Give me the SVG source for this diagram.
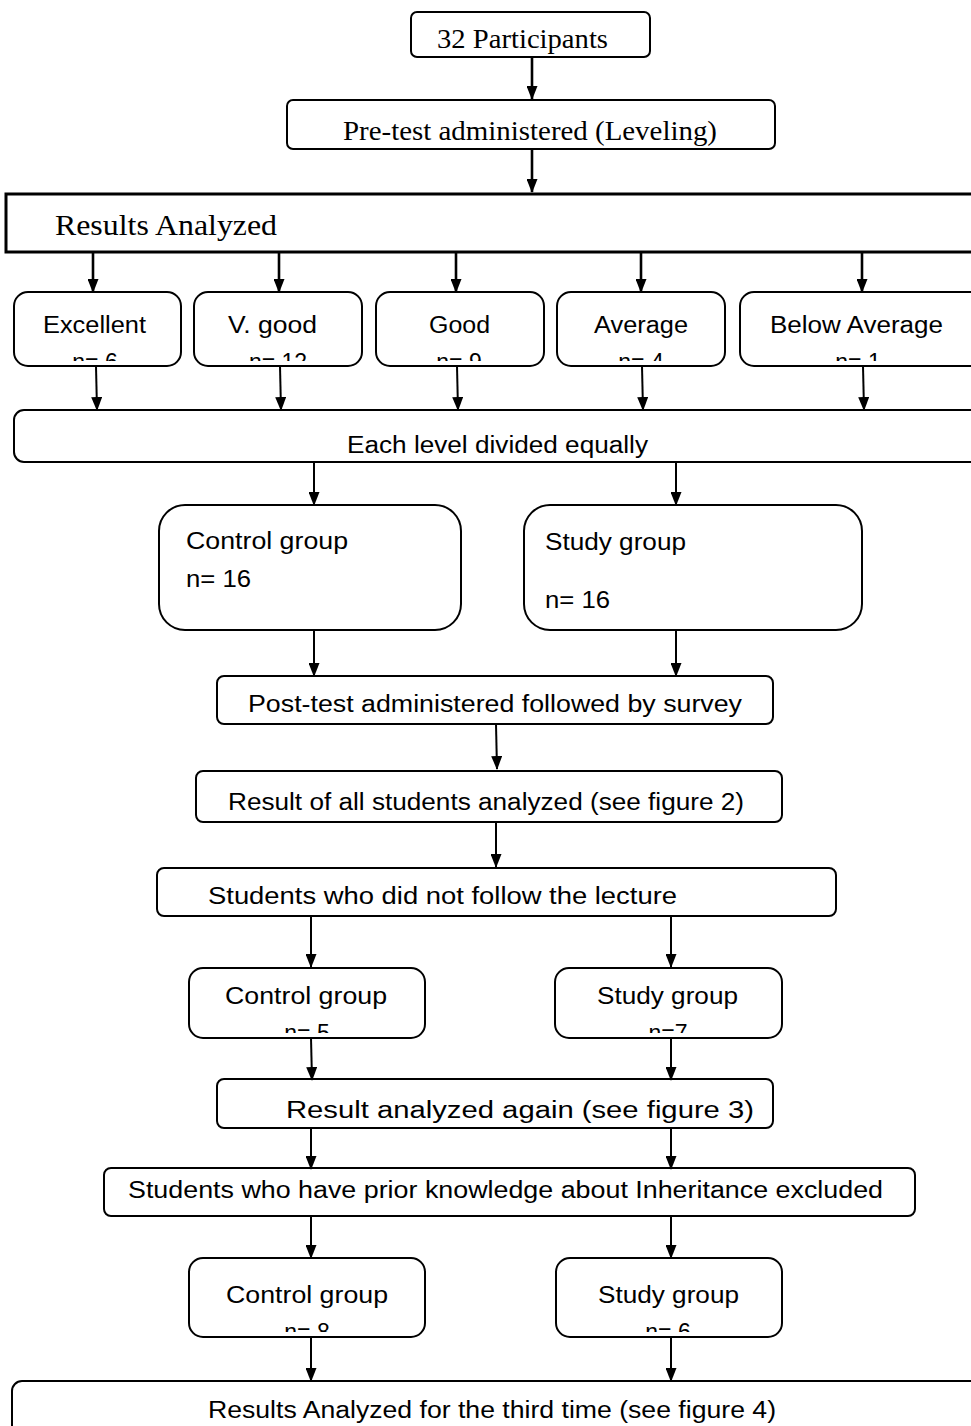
<svg xmlns="http://www.w3.org/2000/svg" width="971" height="1426" viewBox="0 0 971 1426">
<style>
.box{fill:#fff;stroke:#000;stroke-width:2}
.serif{font-family:"Liberation Serif","Times New Roman",serif;fill:#000}
.sans{font-family:"Liberation Sans",Arial,sans-serif;font-size:23px;fill:#000}
.conn line{stroke:#000;stroke-width:2}
.conn line.thick{stroke-width:2.6}
</style>
<defs>
<marker id="ah" viewBox="0 0 14 11" refX="13" refY="5.5" markerWidth="14" markerHeight="11" orient="auto" markerUnits="userSpaceOnUse">
<path d="M0,0 L14,5.5 L0,11 z" fill="#000"/>
</marker>
<clipPath id="cL1"><rect x="0" y="292" width="971" height="69"/></clipPath>
<clipPath id="cPost"><rect x="217" y="676" width="556" height="41"/></clipPath>
<clipPath id="cL2"><rect x="0" y="968" width="971" height="65"/></clipPath>
<clipPath id="cL3"><rect x="0" y="1258" width="971" height="74"/></clipPath>
</defs>

<g id="n_participants">
<rect class="box" x="411" y="12" width="239" height="45" rx="6"/>
<text class="serif" x="437" y="48" font-size="28" textLength="171" lengthAdjust="spacingAndGlyphs">32 Participants</text>
</g>
<g id="n_pretest">
<rect class="box" x="287" y="100" width="488" height="49" rx="6"/>
<text class="serif" x="343" y="140" font-size="28" textLength="374" lengthAdjust="spacingAndGlyphs">Pre-test administered (Leveling)</text>
</g>
<g id="n_results">
<rect x="6" y="194" width="975" height="58" fill="#fff" stroke="#000" stroke-width="3"/>
<text class="serif" x="55" y="235" font-size="30" textLength="222" lengthAdjust="spacingAndGlyphs">Results Analyzed</text>
</g>

<g id="n_excellent">
<rect class="box" x="14" y="292" width="167" height="74" rx="14"/>
<text class="sans" x="43" y="333" textLength="103" lengthAdjust="spacingAndGlyphs">Excellent</text>
<text class="sans" x="95" y="370" text-anchor="middle" clip-path="url(#cL1)">n= 6</text>
</g>
<g id="n_vgood">
<rect class="box" x="194" y="292" width="168" height="74" rx="14"/>
<text class="sans" x="228" y="333" textLength="89" lengthAdjust="spacingAndGlyphs">V. good</text>
<text class="sans" x="278" y="370" text-anchor="middle" clip-path="url(#cL1)">n= 12</text>
</g>
<g id="n_good">
<rect class="box" x="376" y="292" width="168" height="74" rx="14"/>
<text class="sans" x="429" y="333" textLength="61" lengthAdjust="spacingAndGlyphs">Good</text>
<text class="sans" x="459" y="370" text-anchor="middle" clip-path="url(#cL1)">n= 9</text>
</g>
<g id="n_average">
<rect class="box" x="557" y="292" width="168" height="74" rx="14"/>
<text class="sans" x="594" y="333" textLength="94" lengthAdjust="spacingAndGlyphs">Average</text>
<text class="sans" x="641" y="370" text-anchor="middle" clip-path="url(#cL1)">n= 4</text>
</g>
<g id="n_below">
<rect class="box" x="740" y="292" width="245" height="74" rx="14"/>
<text class="sans" x="770" y="333" textLength="173" lengthAdjust="spacingAndGlyphs">Below Average</text>
<text class="sans" x="858" y="370" text-anchor="middle" clip-path="url(#cL1)">n= 1</text>
</g>

<g id="n_divided">
<rect class="box" x="14" y="410" width="975" height="52" rx="10"/>
<text class="sans" x="347" y="453" textLength="301" lengthAdjust="spacingAndGlyphs">Each level divided equally</text>
</g>

<g id="n_control1">
<rect class="box" x="159" y="505" width="302" height="125" rx="26"/>
<text class="sans" x="186" y="549" textLength="162" lengthAdjust="spacingAndGlyphs">Control group</text>
<text class="sans" x="186" y="587" textLength="65" lengthAdjust="spacingAndGlyphs">n= 16</text>
</g>
<g id="n_study1">
<rect class="box" x="524" y="505" width="338" height="125" rx="26"/>
<text class="sans" x="545" y="550" textLength="141" lengthAdjust="spacingAndGlyphs">Study group</text>
<text class="sans" x="545" y="608" textLength="65" lengthAdjust="spacingAndGlyphs">n= 16</text>
</g>

<g id="n_posttest">
<rect class="box" x="217" y="676" width="556" height="48" rx="7"/>
<text class="sans" x="248" y="712" textLength="494" lengthAdjust="spacingAndGlyphs" clip-path="url(#cPost)">Post-test administered followed by survey</text>
</g>
<g id="n_resultall">
<rect class="box" x="196" y="771" width="586" height="51" rx="7"/>
<text class="sans" x="228" y="810" textLength="516" lengthAdjust="spacingAndGlyphs">Result of all students analyzed (see figure 2)</text>
</g>
<g id="n_notfollow">
<rect class="box" x="157" y="868" width="679" height="48" rx="7"/>
<text class="sans" x="208" y="904" textLength="469" lengthAdjust="spacingAndGlyphs">Students who did not follow the lecture</text>
</g>

<g id="n_control2">
<rect class="box" x="189" y="968" width="236" height="70" rx="14"/>
<text class="sans" x="225" y="1004" textLength="162" lengthAdjust="spacingAndGlyphs">Control group</text>
<text class="sans" x="307" y="1041" text-anchor="middle" clip-path="url(#cL2)">n= 5</text>
</g>
<g id="n_study2">
<rect class="box" x="555" y="968" width="227" height="70" rx="14"/>
<text class="sans" x="597" y="1004" textLength="141" lengthAdjust="spacingAndGlyphs">Study group</text>
<text class="sans" x="668" y="1041" text-anchor="middle" clip-path="url(#cL2)">n=7</text>
</g>

<g id="n_again">
<rect class="box" x="217" y="1079" width="556" height="49" rx="7"/>
<text class="sans" x="286" y="1118" textLength="468" lengthAdjust="spacingAndGlyphs">Result analyzed again (see figure 3)</text>
</g>
<g id="n_prior">
<rect class="box" x="104" y="1168" width="811" height="48" rx="7"/>
<text class="sans" x="128" y="1198" textLength="755" lengthAdjust="spacingAndGlyphs">Students who have prior knowledge about Inheritance excluded</text>
</g>

<g id="n_control3">
<rect class="box" x="189" y="1258" width="236" height="79" rx="14"/>
<text class="sans" x="226" y="1303" textLength="162" lengthAdjust="spacingAndGlyphs">Control group</text>
<text class="sans" x="307" y="1340" text-anchor="middle" clip-path="url(#cL3)">n= 8</text>
</g>
<g id="n_study3">
<rect class="box" x="556" y="1258" width="226" height="79" rx="14"/>
<text class="sans" x="598" y="1303" textLength="141" lengthAdjust="spacingAndGlyphs">Study group</text>
<text class="sans" x="668" y="1340" text-anchor="middle" clip-path="url(#cL3)">n= 6</text>
</g>

<g id="n_third">
<rect class="box" x="12" y="1381" width="975" height="60" rx="10"/>
<text class="sans" x="208" y="1418" textLength="568" lengthAdjust="spacingAndGlyphs">Results Analyzed for the third time (see figure 4)</text>
</g>

<g id="connectors" class="conn">
<line class="thick" x1="532" y1="57" x2="532" y2="99" marker-end="url(#ah)"/>
<line class="thick" x1="532" y1="149" x2="532" y2="192" marker-end="url(#ah)"/>
<line class="thick" x1="93" y1="252" x2="93" y2="292" marker-end="url(#ah)"/>
<line class="thick" x1="279" y1="252" x2="279" y2="292" marker-end="url(#ah)"/>
<line class="thick" x1="456" y1="252" x2="456" y2="292" marker-end="url(#ah)"/>
<line class="thick" x1="641" y1="252" x2="641" y2="292" marker-end="url(#ah)"/>
<line class="thick" x1="862" y1="252" x2="862" y2="292" marker-end="url(#ah)"/>
<line x1="96" y1="366" x2="97" y2="410" marker-end="url(#ah)"/>
<line x1="280" y1="366" x2="281" y2="410" marker-end="url(#ah)"/>
<line x1="457" y1="366" x2="458" y2="410" marker-end="url(#ah)"/>
<line x1="642" y1="366" x2="643" y2="410" marker-end="url(#ah)"/>
<line x1="863" y1="366" x2="864" y2="410" marker-end="url(#ah)"/>
<line x1="314" y1="462" x2="314" y2="505" marker-end="url(#ah)"/>
<line x1="676" y1="462" x2="676" y2="505" marker-end="url(#ah)"/>
<line x1="314" y1="630" x2="314" y2="676" marker-end="url(#ah)"/>
<line x1="676" y1="630" x2="676" y2="676" marker-end="url(#ah)"/>
<line x1="496" y1="724" x2="497" y2="769" marker-end="url(#ah)"/>
<line x1="496" y1="822" x2="496" y2="867" marker-end="url(#ah)"/>
<line x1="311" y1="916" x2="311" y2="967" marker-end="url(#ah)"/>
<line x1="671" y1="916" x2="671" y2="967" marker-end="url(#ah)"/>
<line x1="311" y1="1038" x2="312" y2="1080" marker-end="url(#ah)"/>
<line x1="671" y1="1038" x2="671" y2="1080" marker-end="url(#ah)"/>
<line x1="311" y1="1128" x2="311" y2="1169" marker-end="url(#ah)"/>
<line x1="671" y1="1128" x2="671" y2="1169" marker-end="url(#ah)"/>
<line x1="311" y1="1216" x2="311" y2="1258" marker-end="url(#ah)"/>
<line x1="671" y1="1216" x2="671" y2="1258" marker-end="url(#ah)"/>
<line x1="311" y1="1337" x2="311" y2="1381" marker-end="url(#ah)"/>
<line x1="671" y1="1337" x2="671" y2="1381" marker-end="url(#ah)"/>
</g>
</svg>
